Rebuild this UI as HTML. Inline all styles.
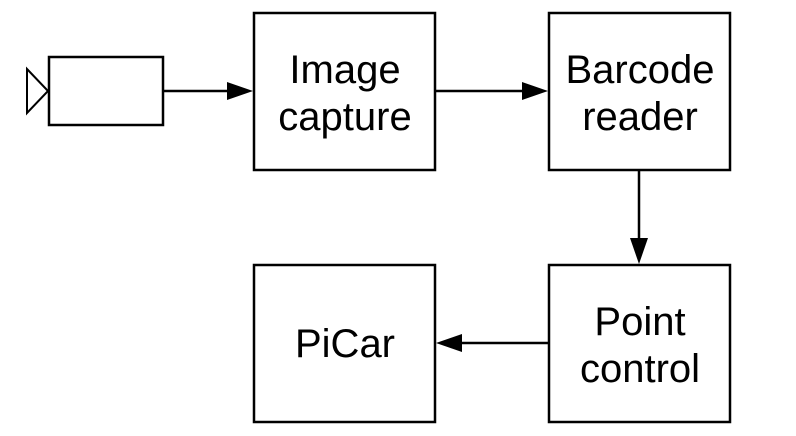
<!DOCTYPE html>
<html><head><style>body{margin:0;background:#fff}</style></head><body>
<svg width="796" height="436" xmlns="http://www.w3.org/2000/svg" style="display:block">
<g fill="none" stroke="#000" stroke-width="2.5">
<rect x="49" y="57" width="114" height="68"/>
<polygon points="27,69 48,91 27,113" stroke-width="2"/>
<rect x="254" y="13" width="181" height="157"/>
<rect x="549" y="13" width="181" height="157"/>
<rect x="549" y="265" width="181" height="157"/>
<rect x="254" y="265" width="181" height="157"/>
<line x1="163" y1="91" x2="230" y2="91"/>
<line x1="435" y1="91" x2="526" y2="91"/>
<line x1="639" y1="170" x2="639" y2="242"/>
<line x1="549" y1="343" x2="458" y2="343"/>
</g>
<g fill="#000">
<polygon points="227,82 253,91 227,100"/>
<polygon points="522,82 548,91 522,100"/>
<polygon points="630,238 639,264 648,238"/>
<polygon points="462,334 436,343 462,352"/>
</g>
<g font-family="Liberation Sans, sans-serif" font-size="40" text-anchor="middle" fill="#000">
<text x="345" y="83">Image</text>
<text x="345" y="130">capture</text>
<text x="640" y="83">Barcode</text>
<text x="640" y="130">reader</text>
<text x="640" y="335">Point</text>
<text x="640" y="382">control</text>
<text x="345" y="357">PiCar</text>
</g>
</svg>
</body></html>
